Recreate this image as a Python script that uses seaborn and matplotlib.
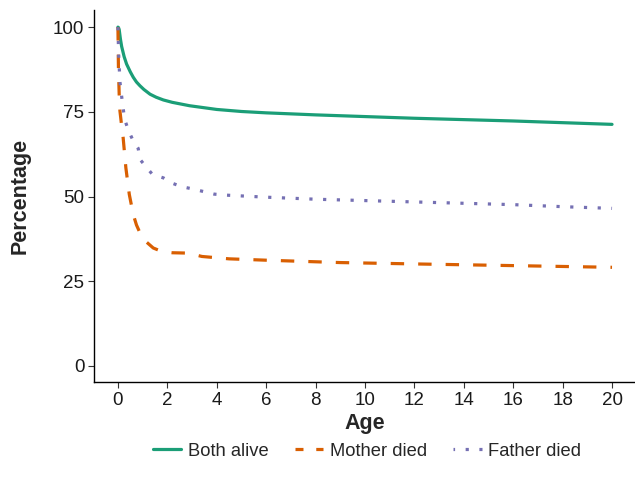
import matplotlib
matplotlib.use('Agg')
import matplotlib.pyplot as plt
import numpy as np
import pandas as pd
import seaborn as sns

# 数据
both_age = [0, 0.02, 0.05, 0.1, 0.15, 0.25, 0.35, 0.5, 0.62, 0.75, 0.89, 1.05, 1.3, 1.55, 1.84, 2.2, 2.9, 3.5, 4, 5, 6, 8, 10, 12, 14, 16, 18, 20]
both_pct = [100, 99.9, 99.3, 96.5, 94.3, 91.3, 89.1, 86.8, 85.2, 83.8, 82.7, 81.6, 80.2, 79.3, 78.5, 77.8, 76.8, 76.2, 75.7, 75.1, 74.7, 74.1, 73.6, 73.1, 72.7, 72.3, 71.8, 71.3]

mother_age = [0, 0.02, 0.05, 0.08, 0.14, 0.21, 0.32, 0.46, 0.62, 0.75, 0.89, 1.1, 1.43, 1.8, 2.2, 2.8, 3.0, 3.4, 4.5, 6, 9, 12, 16, 20]
mother_pct = [100, 88, 80.2, 75.3, 71.5, 67.4, 58.5, 50.6, 44.7, 41.6, 39.3, 36.9, 34.8, 33.7, 33.4, 33.3, 33.0, 32.3, 31.6, 31.2, 30.5, 30.1, 29.6, 29.1]

father_age = [0, 0.03, 0.08, 0.2, 0.28, 0.42, 0.6, 0.82, 0.89, 1.13, 1.4, 1.84, 2.17, 2.58, 3.05, 3.5, 3.9, 4.4, 6, 8, 10, 12, 14, 16, 18, 20]
father_pct = [100, 91.7, 83.9, 76.5, 72.6, 69.6, 66.7, 64.2, 61, 58.8, 56.5, 55.5, 54, 52.9, 52.2, 51.4, 50.7, 50.4, 49.8, 49.2, 48.8, 48.4, 48.0, 47.6, 47.0, 46.5]

groups = ['Both alive', 'Mother died', 'Father died']
colors = ['#1B9E77', '#D95F02', '#7570B3']

df = pd.concat([
    pd.DataFrame({'Age': both_age, 'Percentage': both_pct, 'group': groups[0]}),
    pd.DataFrame({'Age': mother_age, 'Percentage': mother_pct, 'group': groups[1]}),
    pd.DataFrame({'Age': father_age, 'Percentage': father_pct, 'group': groups[2]}),
], ignore_index=True)

sns.set_style('white')
plt.rcParams['font.family'] = ['Liberation Sans', 'DejaVu Sans']

fig = plt.figure(figsize=(6.35, 4.86), dpi=100)
ax = fig.add_axes([0.148, 0.213, 0.852, 0.766])

sns.lineplot(
    data=df, x='Age', y='Percentage', hue='group', style='group',
    hue_order=groups, style_order=groups,
    palette=dict(zip(groups, colors)),
    dashes={'Both alive': '', 'Mother died': (4.2, 4.4), 'Father died': (1, 3.3)},
    estimator=None, sort=True, linewidth=2.3, ax=ax
)

ax.set_xlim(-0.97, 20.93)
ax.set_ylim(-4.9, 105)
ax.set_xticks(np.arange(0, 21, 2))
ax.set_yticks([0, 25, 50, 75, 100])
ax.tick_params(axis='both', direction='out', length=4, width=0.8, color='#333333',
               labelsize=13.5, labelcolor='#1a1a1a', bottom=True, left=True, pad=3)

for side in ['top', 'right']:
    ax.spines[side].set_visible(False)
for side in ['left', 'bottom']:
    ax.spines[side].set_color('black')
    ax.spines[side].set_linewidth(1.0)

ax.set_xlabel('Age', fontsize=15.5, fontweight='bold', labelpad=3)
ax.set_ylabel('Percentage', fontsize=15.5, fontweight='bold', labelpad=16)

sns.move_legend(ax, 'center', bbox_to_anchor=(0.578, 0.072), bbox_transform=fig.transFigure,
                ncol=3, title=None, frameon=False, fontsize=13.2,
                handlelength=1.55, handletextpad=0.35, columnspacing=1.45)

# 图例中的线型
leg_lines = ax.get_legend().get_lines()
leg_lines[1].set_dashes((2.5, 4.0))
leg_lines[2].set_linestyle((0.5, (1, 3.3)))

plt.savefig('out.png', dpi=100)
